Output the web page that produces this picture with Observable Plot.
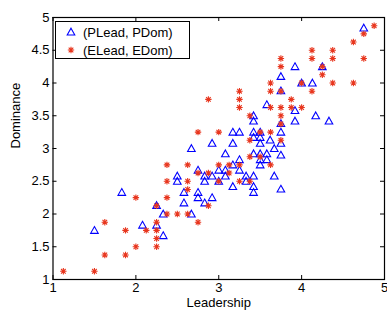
<!DOCTYPE html>
<html><head><meta charset="utf-8">
<script src="https://cdn.jsdelivr.net/npm/d3@7"></script>
<script src="https://cdn.jsdelivr.net/npm/@observablehq/plot@0.6"></script>
<style>body{margin:0;background:#fff}</style>
</head><body><div id="chart"></div>
<script>
// (PLead, PDom) — blue triangles
const pLead = [1.5,1.83,2.08,2.25,2.25,2.33,2.33,2.5,2.5,2.58,2.58,2.67,2.67,2.75,2.75,2.75,2.83,2.83,2.83,2.92,2.92,2.92,3.0,3.0,3.08,3.08,3.08,3.17,3.17,3.17,3.17,3.25,3.25,3.25,3.33,3.33,3.42,3.42,3.42,3.42,3.42,3.42,3.42,3.42,3.5,3.5,3.5,3.5,3.5,3.5,3.58,3.58,3.58,3.62,3.67,3.67,3.75,3.75,3.75,3.75,3.75,3.75,3.75,3.92,3.92,3.92,4.0,4.13,4.17,4.25,4.33,4.75];
const pDom  = [1.75,2.33,1.83,2.13,1.83,1.67,2.0,2.58,2.5,2.33,2.17,2.0,3.0,2.67,2.33,2.25,2.58,2.5,2.17,2.58,2.25,3.08,2.67,2.5,2.67,2.58,2.92,2.75,2.42,3.25,3.08,2.67,2.83,3.25,2.58,2.5,2.58,2.42,2.33,2.92,3.17,3.25,3.42,3.5,2.75,2.83,2.92,3.08,3.17,3.25,2.83,2.92,3.67,3.13,2.58,3.0,2.38,2.9,3.08,3.25,3.38,3.88,4.1,3.58,3.42,4.25,4.0,4.0,3.5,4.25,3.42,4.84];
// (ELead, EDom) — red asterisks
const eLead = [1.125,1.5,1.625,1.625,1.875,1.875,2.0,2.0,2.125,2.25,2.25,2.25,2.25,2.25,2.375,2.375,2.375,2.375,2.5,2.625,2.625,2.625,2.625,2.75,2.75,2.75,2.875,2.875,2.875,3.0,3.0,3.0,3.125,3.125,3.25,3.25,3.25,3.25,3.25,3.375,3.375,3.375,3.375,3.5,3.5,3.625,3.625,3.625,3.625,3.625,3.75,3.75,3.75,3.75,3.75,3.75,3.75,3.875,3.875,4.0,4.0,4.125,4.125,4.125,4.25,4.25,4.375,4.375,4.375,4.625,4.625,4.75,4.75,4.875];
const eDom  = [1.125,1.125,1.875,1.375,1.75,1.375,2.25,1.5,1.75,2.125,1.875,1.75,1.625,1.5,2.75,2.5,2.25,2.0,2.0,2.75,2.5,2.375,2.0,2.625,1.875,3.25,2.625,2.125,3.75,2.75,2.5,3.25,2.75,2.625,2.75,2.5,3.875,3.75,3.625,2.875,2.5,3.125,3.5,2.875,3.25,2.75,3.25,3.625,3.875,4.0,3.125,3.375,3.5,3.625,3.875,4.25,4.375,3.75,3.625,3.625,4.0,3.875,4.375,4.5,4.25,4.125,4.0,4.375,4.5,4.0,4.625,4.375,4.75,4.875];

const xTicks = [1, 2, 3, 4, 5];
const yTicks = [1, 1.5, 2, 2.5, 3, 3.5, 4, 4.5, 5];
const seriesNames = ["(PLead, PDom)", "(ELead, EDom)"];
const xLabel = "Leadership";
const yLabel = "Dominance";

const pData = pLead.map((x, i) => ({x, y: pDom[i]}));
const eData = eLead.map((x, i) => ({x, y: eDom[i]}));

const BLUE = "#0000ff", RED = "#e8361e";
const FONT = "Liberation Sans, Arial, Helvetica, sans-serif";

const triSym = {draw(ctx, size) {
  const r = Math.sqrt(size / Math.PI);
  ctx.moveTo(0, -r); ctx.lineTo(r, 0.78 * r); ctx.lineTo(-r, 0.78 * r); ctx.closePath();
}};
const starSym = {draw(ctx, size) {
  const r = Math.sqrt(size / Math.PI), d = r * 0.72;
  ctx.moveTo(-r, 0); ctx.lineTo(r, 0);
  ctx.moveTo(0, -r); ctx.lineTo(0, r);
  ctx.moveTo(-d, -d); ctx.lineTo(d, d);
  ctx.moveTo(-d, d); ctx.lineTo(d, -d);
}};

const W = 387, H = 311, mL = 52.5, mR = 3, mT = 17, mB = 32;
const innerH = H - mT - mB, innerW = W - mL - mR;
const TL = 4;

const chart = Plot.plot({
  width: W, height: H,
  marginLeft: mL, marginRight: mR, marginTop: mT, marginBottom: mB,
  style: {fontFamily: FONT, fontSize: "13px", color: "#000", background: "#fff", overflow: "visible"},
  x: {domain: [1, 5]},
  y: {domain: [1, 5]},
  marks: [
    Plot.axisX({ticks: xTicks, tickSize: 0, tickPadding: 3, tickFormat: d => String(d), label: null, fontSize: 13}),
    Plot.axisY({ticks: yTicks, tickSize: 0, tickPadding: 3.5, tickFormat: d => String(d), label: null, fontSize: 13}),
    Plot.tickX(xTicks, {x: d => d, insetTop: innerH - TL, stroke: "#000"}),
    Plot.tickX(xTicks, {x: d => d, insetBottom: innerH - TL, stroke: "#000"}),
    Plot.tickY(yTicks, {y: d => d, insetRight: innerW - TL, stroke: "#000"}),
    Plot.tickY(yTicks, {y: d => d, insetLeft: innerW - TL, stroke: "#000"}),
    Plot.dot(pData, {x: "x", y: "y", symbol: triSym, r: 3.8, fill: "none", stroke: BLUE, strokeWidth: 1.1}),
    Plot.dot(eData, {x: "x", y: "y", symbol: starSym, r: 3.2, fill: "none", stroke: RED, strokeWidth: 1.1}),
    Plot.frame({stroke: "#000", strokeWidth: 1.2}),
    Plot.text([xLabel], {frameAnchor: "bottom", dy: 27.5, fontSize: 13, fill: "#000"}),
    Plot.text([yLabel], {frameAnchor: "left", dx: -37, rotate: -90, fontSize: 13, fill: "#000"})
  ]
});
document.getElementById("chart").appendChild(chart);

// legend inside the plot, top-left
const svg = d3.select(chart.tagName.toLowerCase() === "svg" ? chart : chart.querySelector("svg"));
const lg = svg.append("g").attr("font-family", FONT).attr("font-size", 13).attr("text-anchor", "start");
lg.append("rect").attr("x", 55.5).attr("y", 21.5).attr("width", 134).attr("height", 37)
  .attr("fill", "#fff").attr("stroke", "#000").attr("stroke-width", 1);
const syms = [triSym, starSym], cols = [BLUE, RED], rs = [3.8, 3.2];
seriesNames.forEach((name, i) => {
  const cy = 32 + i * 18;
  lg.append("path").attr("d", d3.symbol(syms[i], Math.PI * rs[i] * rs[i])())
    .attr("transform", `translate(71,${cy})`).attr("fill", "none").attr("stroke", cols[i]).attr("stroke-width", 1.1);
  lg.append("text").attr("x", 83).attr("y", cy).attr("dy", "0.35em").attr("text-anchor", "start").attr("fill", "#000").text(name);
});
</script>
</body></html>
